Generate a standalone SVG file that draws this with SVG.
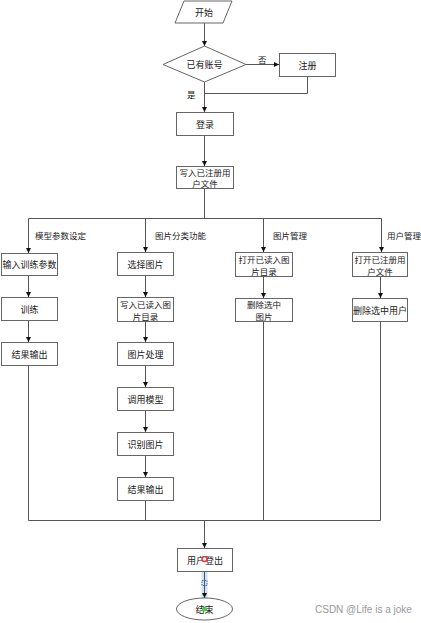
<svg xmlns="http://www.w3.org/2000/svg" width="421" height="623" viewBox="0 0 421 623">
<style>
.n{fill:#fff;stroke:#666;stroke-width:1}
.t{font-family:"Noto Sans CJK SC","Noto Sans",sans-serif;font-size:9px;fill:#222;text-anchor:middle;dominant-baseline:central}
.t2{font-size:8.5px}
.l{font-family:"Noto Sans CJK SC","Noto Sans",sans-serif;font-size:8.5px;fill:#222;dominant-baseline:central}
.e{fill:none;stroke:#555;stroke-width:1}
</style>
<defs>
<marker id="a" markerUnits="userSpaceOnUse" markerWidth="6" markerHeight="6" refX="5" refY="3" orient="auto">
<path d="M0,0.5 L5,3 L0,5.5 Z" fill="#111"/>
</marker>
</defs>
<rect width="421" height="623" fill="#fff"/>
<g id="connectors">
<path class="e" d="M204.5,23 V46" marker-end="url(#a)"/>
<path class="e" d="M246,64.5 H279" marker-end="url(#a)"/>
<path class="e" d="M307.5,76 V93.5 H204.5"/>
<path class="e" d="M204.5,82 V112" marker-end="url(#a)"/>
<path class="e" d="M204.5,135 V166" marker-end="url(#a)"/>
<path class="e" d="M204.5,188 V218.5"/>
<path class="e" d="M28.5,218.5 H381.5"/>
<path class="e" d="M28.5,218.5 V253" marker-end="url(#a)"/>
<path class="e" d="M145.5,218.5 V252" marker-end="url(#a)"/>
<path class="e" d="M263.5,218.5 V252" marker-end="url(#a)"/>
<path class="e" d="M381.5,218.5 V252" marker-end="url(#a)"/>
<path class="e" d="M28.5,275 V297" marker-end="url(#a)"/>
<path class="e" d="M28.5,320 V342" marker-end="url(#a)"/>
<path class="e" d="M145.5,275 V297" marker-end="url(#a)"/>
<path class="e" d="M145.5,321 V342" marker-end="url(#a)"/>
<path class="e" d="M145.5,365 V387" marker-end="url(#a)"/>
<path class="e" d="M145.5,410 V432" marker-end="url(#a)"/>
<path class="e" d="M145.5,455 V477" marker-end="url(#a)"/>
<path class="e" d="M263.5,276 V298" marker-end="url(#a)"/>
<path class="e" d="M380.5,276 V298" marker-end="url(#a)"/>
<path class="e" d="M28.5,365 V520.5"/>
<path class="e" d="M145.5,500 V520.5"/>
<path class="e" d="M263.5,321 V520.5"/>
<path class="e" d="M380.5,321 V520.5"/>
<path class="e" d="M28.5,520.5 H380.5"/>
<path class="e" d="M204.5,520.5 V548" marker-end="url(#a)"/>
<path d="M204.5,560 V607" stroke="#cfe1f7" stroke-width="6" stroke-linecap="round" fill="none"/>
<path class="e" d="M204.5,571 V598" marker-end="url(#a)"/>
<text class="l" x="258" y="59">否</text>
<text class="l" x="187" y="94">是</text>
<text class="l" x="35" y="235">模型参数设定</text>
<text class="l" x="155" y="235">图片分类功能</text>
<text class="l" x="273" y="235">图片管理</text>
<text class="l" x="387" y="235">用户管理</text>
</g>
<g id="start"><polygon class="n" points="184,1 232,1 223,23 175,23"/><text class="t" x="204" y="12">开始</text></g>
<g id="hasAccount"><polygon class="n" points="163,64.5 204.5,46 246,64.5 204.5,82"/><text class="t" x="204.5" y="64.5">已有账号</text></g>
<g id="register"><rect class="n" x="279.5" y="53.5" width="56" height="23"/><text class="t" x="307.5" y="65">注册</text></g>
<g id="login"><rect class="n" x="176.5" y="112.5" width="57" height="23"/><text class="t" x="205" y="124">登录</text></g>
<g id="writeUsers"><rect class="n" x="176.5" y="166.5" width="57" height="22"/><text class="t t2" x="205" y="171.5">写入已注册用</text><text class="t t2" x="205" y="183">户文件</text></g>
<g id="inputParams"><rect class="n" x="1.5" y="253.5" width="56" height="22"/><text class="t" x="29.5" y="264.5">输入训练参数</text></g>
<g id="train"><rect class="n" x="1.5" y="297.5" width="56" height="23"/><text class="t" x="29.5" y="309">训练</text></g>
<g id="output1"><rect class="n" x="1.5" y="342.5" width="56" height="23"/><text class="t" x="29.5" y="354">结果输出</text></g>
<g id="selectImg"><rect class="n" x="117.5" y="252.5" width="56" height="23"/><text class="t" x="145.5" y="264">选择图片</text></g>
<g id="writeImgDir"><rect class="n" x="117.5" y="297.5" width="56" height="24"/><text class="t t2" x="145.5" y="303.5">写入已读入图</text><text class="t t2" x="145.5" y="315.5">片目录</text></g>
<g id="imgProcess"><rect class="n" x="117.5" y="342.5" width="56" height="23"/><text class="t" x="145.5" y="354">图片处理</text></g>
<g id="callModel"><rect class="n" x="117.5" y="387.5" width="56" height="23"/><text class="t" x="145.5" y="399">调用模型</text></g>
<g id="recognize"><rect class="n" x="117.5" y="432.5" width="56" height="23"/><text class="t" x="145.5" y="444">识别图片</text></g>
<g id="output2"><rect class="n" x="117.5" y="477.5" width="56" height="23"/><text class="t" x="145.5" y="489">结果输出</text></g>
<g id="openImgDir"><rect class="n" x="235.5" y="252.5" width="57" height="24"/><text class="t t2" x="264" y="258.5">打开已读入图</text><text class="t t2" x="264" y="270.5">片目录</text></g>
<g id="deleteImg"><rect class="n" x="235.5" y="298.5" width="57" height="23"/><text class="t t2" x="264" y="304">删除选中</text><text class="t t2" x="264" y="316">图片</text></g>
<g id="openUsers"><rect class="n" x="352.5" y="252.5" width="55" height="24"/><text class="t t2" x="380" y="258.5">打开已注册用</text><text class="t t2" x="380" y="270.5">户文件</text></g>
<g id="deleteUser"><rect class="n" x="352.5" y="298.5" width="55" height="23"/><text class="t" x="380" y="310">删除选中用户</text></g>
<g id="logout"><rect class="n" x="177.5" y="548.5" width="55" height="23"/><text class="t" x="205" y="560">用户登出</text></g>
<g id="end"><ellipse class="n" cx="204.5" cy="609" rx="28" ry="11"/><text class="t" x="204.5" y="609">结束</text></g>
<g id="selection">
<circle cx="204.5" cy="559" r="2.5" fill="#fff" stroke="#e33" stroke-width="1.5"/>
<rect x="202" y="580.5" width="5" height="5" fill="none" stroke="#3a6fc4" stroke-width="1" stroke-dasharray="1.5,1"/>
<circle cx="204.5" cy="609" r="2.5" fill="#4cd04c"/>
</g>
<text x="315" y="609" font-family="Liberation Sans, Arial, sans-serif" font-size="10" fill="#999" dominant-baseline="central">CSDN @Life is a joke</text>
</svg>
